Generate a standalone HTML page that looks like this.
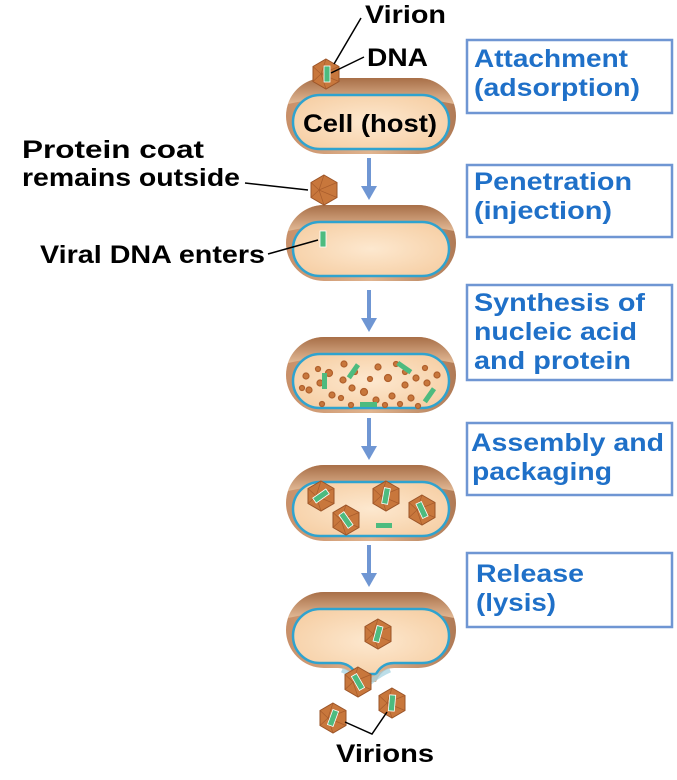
<!DOCTYPE html>
<html><head><style>body{margin:0;background:#fff}svg{display:block}</style></head><body>
<svg width="677" height="780" viewBox="0 0 677 780" font-family="Liberation Sans, sans-serif" font-weight="bold">
<defs>
<linearGradient id="wall" x1="0" y1="0" x2="1" y2="0"><stop offset="0" stop-color="#c88f68"/><stop offset="0.5" stop-color="#e0b48f"/><stop offset="1" stop-color="#b07a55"/></linearGradient>
<linearGradient id="top" x1="0" y1="0" x2="0" y2="1"><stop offset="0" stop-color="#a86f48"/><stop offset="1" stop-color="#e2b995"/></linearGradient>
<radialGradient id="cyt" cx="0.5" cy="0.5" r="0.6"><stop offset="0" stop-color="#fde8cf"/><stop offset="1" stop-color="#f6cfa5"/></radialGradient>
<g id="vir">
<polygon points="0,-15 13,-7.5 13,7.5 0,15 -13,7.5 -13,-7.5" fill="#c8773c" stroke="#9a5428" stroke-width="1"/>
<path d="M0,-15 L-5,0 L0,15 M-13,-7.5 L-5,0 L13,-7.5 M-13,7.5 L-5,0 L13,7.5" stroke="#a85c2c" stroke-width="0.7" fill="none"/>
</g>
<g id="dna"><rect x="-3" y="-8" width="6" height="16" fill="#4dbb7f" stroke="#fff" stroke-width="0.8"/></g>
<g id="cell">
<rect x="0" y="0" width="170" height="76" rx="38" fill="url(#wall)"/>
<path d="M38,0 H132 A38,38 0 0 1 168,26 Q85,8 2,26 A38,38 0 0 1 38,0Z" fill="url(#top)"/>
<rect x="7" y="17" width="156" height="54" rx="27" fill="url(#cyt)" stroke="#2fa3cf" stroke-width="2.5"/>
</g>
<g id="arr"><rect x="-2" y="0" width="4" height="30" fill="#6f96d3"/><polygon points="-8,28 8,28 0,42" fill="#6f96d3"/></g>
</defs>

<g fill="none" stroke="#6f96d3" stroke-width="2.5">
<rect x="467" y="40" width="205" height="73"/>
<rect x="467" y="165" width="205" height="72"/>
<rect x="467" y="285" width="205" height="95"/>
<rect x="467" y="423" width="205" height="72"/>
<rect x="467" y="553" width="205" height="74"/>
</g>
<g fill="#1f70c8" font-size="25" lengthAdjust="spacingAndGlyphs">
<text x="474" y="67" textLength="154" lengthAdjust="spacingAndGlyphs">Attachment</text><text x="474" y="96" textLength="166" lengthAdjust="spacingAndGlyphs">(adsorption)</text>
<text x="474" y="190" textLength="158" lengthAdjust="spacingAndGlyphs">Penetration</text><text x="474" y="219" textLength="138" lengthAdjust="spacingAndGlyphs">(injection)</text>
<text x="474" y="311" textLength="171" lengthAdjust="spacingAndGlyphs">Synthesis of</text><text x="474" y="340" textLength="163" lengthAdjust="spacingAndGlyphs">nucleic acid</text><text x="474" y="369" textLength="157" lengthAdjust="spacingAndGlyphs">and protein</text>
<text x="471" y="451" textLength="193" lengthAdjust="spacingAndGlyphs">Assembly and</text><text x="472" y="480" textLength="140" lengthAdjust="spacingAndGlyphs">packaging</text>
<text x="476" y="582" textLength="108" lengthAdjust="spacingAndGlyphs">Release</text><text x="476" y="611" textLength="80" lengthAdjust="spacingAndGlyphs">(lysis)</text>
</g>

<use href="#arr" x="369" y="158"/>
<use href="#arr" x="369" y="290"/>
<use href="#arr" x="369" y="418"/>
<use href="#arr" x="369" y="545"/>

<use href="#cell" x="286" y="78"/>
<text x="303" y="132" font-size="25" textLength="134" lengthAdjust="spacingAndGlyphs">Cell (host)</text>
<use href="#vir" x="326" y="74"/><use href="#dna" x="327" y="74"/>
<path d="M334,64 L361,18 M331,73 L364,57" stroke="#000" stroke-width="1.5"/>
<text x="365" y="23" font-size="25" textLength="81" lengthAdjust="spacingAndGlyphs">Virion</text>
<text x="367" y="66" font-size="25" textLength="61" lengthAdjust="spacingAndGlyphs">DNA</text>

<use href="#cell" x="286" y="205"/>
<use href="#vir" x="324" y="190"/>
<use href="#dna" x="323" y="239"/>
<path d="M245,183 L308,190 M268,254 L318,240" stroke="#000" stroke-width="1.5"/>
<text x="22" y="158" font-size="25" textLength="182" lengthAdjust="spacingAndGlyphs">Protein coat</text>
<text x="22" y="186" font-size="25" textLength="218" lengthAdjust="spacingAndGlyphs">remains outside</text>
<text x="40" y="263" font-size="25" textLength="225" lengthAdjust="spacingAndGlyphs">Viral DNA enters</text>

<use href="#cell" x="286" y="337"/>
<g fill="#c8773c" stroke="#b0602c" stroke-width="1.2">
<circle cx="306" cy="376" r="3"/><circle cx="318" cy="369" r="2.5"/><circle cx="329" cy="373" r="3.5"/><circle cx="344" cy="364" r="3"/><circle cx="343" cy="380" r="3"/><circle cx="355" cy="372" r="2.5"/><circle cx="364" cy="392" r="3.5"/><circle cx="378" cy="367" r="3"/><circle cx="388" cy="378" r="3.5"/><circle cx="396" cy="364" r="2.5"/><circle cx="405" cy="385" r="3"/><circle cx="405" cy="372" r="2.5"/><circle cx="416" cy="378" r="3"/><circle cx="425" cy="368" r="2.5"/><circle cx="427" cy="383" r="3"/><circle cx="309" cy="390" r="3"/><circle cx="320" cy="383" r="3"/><circle cx="332" cy="395" r="3"/><circle cx="341" cy="398" r="2.5"/><circle cx="352" cy="388" r="3"/><circle cx="370" cy="379" r="2.5"/><circle cx="376" cy="400" r="3"/><circle cx="392" cy="396" r="3"/><circle cx="400" cy="404" r="2.5"/><circle cx="411" cy="398" r="3"/><circle cx="418" cy="406" r="2.5"/><circle cx="437" cy="375" r="3"/><circle cx="302" cy="388" r="2.5"/><circle cx="322" cy="404" r="2.5"/><circle cx="351" cy="405" r="2.5"/><circle cx="385" cy="405" r="2.5"/>
</g>
<g fill="#4dbb7f"><rect x="322" y="373" width="5" height="16"/><rect x="351" y="363" width="5" height="16" transform="rotate(35 353 371)"/><rect x="402" y="360" width="5" height="16" transform="rotate(-55 404 368)"/><rect x="427" y="387" width="5" height="16" transform="rotate(35 429 395)"/><rect x="360" y="402" width="17" height="5"/></g>

<use href="#cell" x="286" y="465"/>
<g><use href="#vir" x="321" y="496"/><use href="#dna" x="321" y="496" transform="rotate(55 321 496)"/>
<use href="#vir" x="346" y="520"/><use href="#dna" x="346" y="520" transform="rotate(-35 346 520)"/>
<use href="#vir" x="386" y="496"/><use href="#dna" x="386" y="496" transform="rotate(10 386 496)"/>
<use href="#vir" x="422" y="510"/><use href="#dna" x="422" y="510" transform="rotate(-25 422 510)"/></g>
<rect x="376" y="523" width="16" height="5" fill="#4dbb7f"/>

<g transform="translate(286,592)">
<path d="M38,0 H132 A38,38 0 0 1 132,76 H108 Q96,76 90,90 H70 Q64,76 52,76 H38 A38,38 0 0 1 38,0Z" fill="url(#wall)"/>
<path d="M38,0 H132 A38,38 0 0 1 168,26 Q85,8 2,26 A38,38 0 0 1 38,0Z" fill="url(#top)"/>
<path d="M34,17 H136 A27,27 0 0 1 136,71 H108 Q96,71 90,82 H70 Q64,71 52,71 H34 A27,27 0 0 1 34,17Z" fill="url(#cyt)" stroke="#2fa3cf" stroke-width="2.5"/>
<path d="M56,78 Q70,84 80,94 Q90,84 104,78" stroke="#9fd0e0" stroke-width="5" fill="none" opacity="0.7"/>
</g>
<use href="#vir" x="378" y="634"/><use href="#dna" x="378" y="634" transform="rotate(15 378 634)"/>
<use href="#vir" x="358" y="682"/><use href="#dna" x="358" y="682" transform="rotate(-30 358 682)"/>
<use href="#vir" x="392" y="703"/><use href="#dna" x="392" y="703" transform="rotate(5 392 703)"/>
<use href="#vir" x="333" y="718"/><use href="#dna" x="333" y="718" transform="rotate(20 333 718)"/>
<path d="M345,722 L372,734 L387,712" stroke="#000" stroke-width="1.5" fill="none"/>
<text x="336" y="762" font-size="25" textLength="98" lengthAdjust="spacingAndGlyphs">Virions</text>
</svg>
</body></html>
